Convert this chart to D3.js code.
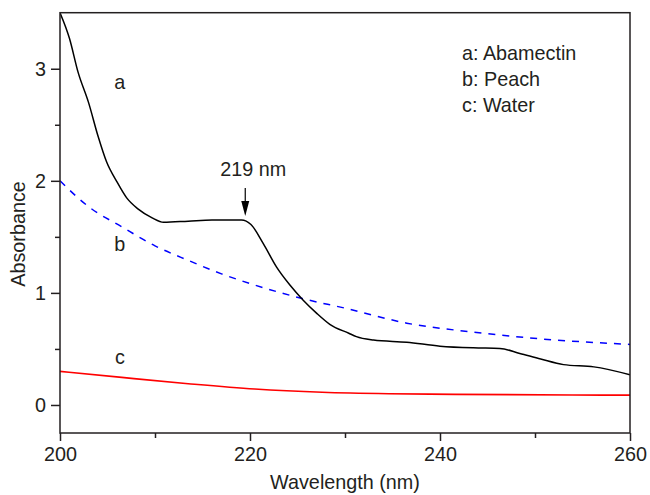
<!DOCTYPE html>
<html>
<head>
<meta charset="utf-8">
<script src="https://cdn.jsdelivr.net/npm/d3@7"></script>
<style>
  body { margin: 0; background: #fff; }
  svg text { font-family: "Liberation Sans", Arial, sans-serif; fill: #231f20; }
</style>
</head>
<body>
<svg id="chart" width="650" height="495"></svg>
<script>
// curve a: abamectin
var wavelengthA = [200, 201, 201.9, 203, 204, 204.9, 206, 207, 208.2, 209.7, 210.9, 213.5, 216, 219.1, 220.1,
    221.4, 222.8, 224.2, 225.6, 227, 228.4, 230.4, 231.2, 233, 236.5, 240, 243.5, 246.3, 248.4, 250.6, 253, 256.2, 260];
var absA = [3.5, 3.27, 2.97, 2.7, 2.4, 2.17, 1.99, 1.85, 1.75, 1.67, 1.63, 1.64, 1.65, 1.65, 1.61,
    1.44, 1.23, 1.07, 0.935, 0.82, 0.72, 0.64, 0.61, 0.58, 0.56, 0.525, 0.51, 0.505, 0.46, 0.41, 0.36, 0.34, 0.27];
// curve b: peach
var wavelengthB = [200, 203, 206.5, 210, 213.5, 217, 220.5, 225.5, 230.2, 236.5, 243.5, 250.6, 260];
var absB = [2.0, 1.77, 1.59, 1.42, 1.29, 1.17, 1.07, 0.95, 0.86, 0.73, 0.65, 0.59, 0.54];
// curve c: water
var wavelengthC = [200, 206.5, 213.5, 220.5, 227.6, 234.6, 241.6, 253.9, 260];
var absC = [0.30, 0.246, 0.19, 0.142, 0.113, 0.10, 0.095, 0.089, 0.088];

var xTicks = [200, 220, 240, 260];
var yTicks = [0, 1, 2, 3];
var legendLines = ["a: Abamectin", "b: Peach", "c: Water"];

var margin = {left: 60, right: 20, top: 12.7, bottom: 62};
var width = 650, height = 495;
var svg = d3.select("#chart");

var x = d3.scaleLinear().domain([200, 260]).range([margin.left, width - margin.right]);
var y = d3.scaleLinear().domain([-0.25, 3.5]).range([height - margin.bottom, margin.top]);

svg.append("clipPath").attr("id", "plotclip").append("rect")
    .attr("x", x(200)).attr("y", y(3.5)).attr("width", x(260) - x(200)).attr("height", y(-0.25) - y(3.5));

function series(xs, ys) {
    return xs.map((d, i) => [d, ys[i]]);
}
var line = d3.line().x(d => x(d[0])).y(d => y(d[1])).curve(d3.curveMonotoneX);

var plot = svg.append("g").attr("clip-path", "url(#plotclip)");
plot.append("path").datum(series(wavelengthC, absC))
    .attr("d", line).attr("fill", "none").attr("stroke", "#ff0000").attr("stroke-width", 1.6);
plot.append("path").datum(series(wavelengthB, absB))
    .attr("d", line).attr("fill", "none").attr("stroke", "#0000ff").attr("stroke-width", 1.5)
    .attr("stroke-dasharray", "7,7");
plot.append("path").datum(series(wavelengthA, absA))
    .attr("d", line).attr("fill", "none").attr("stroke", "#000").attr("stroke-width", 1.5);

// axes
var fs = "19.8px";
var xAxis = d3.axisBottom(x).tickValues(xTicks).tickSize(8).tickPadding(6).tickFormat(d3.format("d"));
var xMinor = d3.axisBottom(x).tickValues([210, 230, 250]).tickSize(5).tickFormat("");
var yAxis = d3.axisLeft(y).tickValues(yTicks).tickSize(9).tickPadding(5).tickFormat(d3.format("d"));
var yMinor = d3.axisLeft(y).tickValues([0.5, 1.5, 2.5]).tickSize(5).tickFormat("");

function styleAxis(g) {
    g.select(".domain").remove();
    g.selectAll("line").attr("stroke", "#231f20").attr("stroke-width", 1.5);
    g.selectAll("text").style("font-size", fs).attr("fill", "#231f20");
}
svg.append("g").attr("transform", "translate(0," + y(-0.25) + ")").call(xAxis).call(styleAxis);
svg.append("g").attr("transform", "translate(0," + y(-0.25) + ")").call(xMinor).call(styleAxis);
svg.append("g").attr("transform", "translate(" + x(200) + ",0)").call(yAxis).call(styleAxis);
svg.append("g").attr("transform", "translate(" + x(200) + ",0)").call(yMinor).call(styleAxis);

// frame
svg.append("rect").attr("x", x(200)).attr("y", y(3.5))
    .attr("width", x(260) - x(200)).attr("height", y(-0.25) - y(3.5))
    .attr("fill", "none").attr("stroke", "#231f20").attr("stroke-width", 1.5);

// axis titles
svg.append("text").attr("x", (x(200) + x(260)) / 2).attr("y", 489)
    .attr("text-anchor", "middle").style("font-size", fs).text("Wavelength (nm)");
svg.append("text").attr("transform", "translate(25,234) rotate(-90)")
    .attr("text-anchor", "middle").style("font-size", fs).text("Absorbance");

// curve labels
var curveLabels = [["a", 206.3, 2.82], ["b", 206.3, 1.37], ["c", 206.3, 0.37]];
svg.selectAll(".clab").data(curveLabels).enter().append("text")
    .attr("class", "clab")
    .attr("x", d => x(d[1])).attr("y", d => y(d[2]))
    .attr("text-anchor", "middle").style("font-size", fs).text(d => d[0]);

// 219 nm annotation
svg.append("text").attr("x", x(219.5) + 8).attr("y", 176)
    .attr("text-anchor", "middle").style("font-size", fs).text("219 nm");
svg.append("line").attr("x1", x(219.5)).attr("x2", x(219.5)).attr("y1", 188).attr("y2", 205)
    .attr("stroke", "#000").attr("stroke-width", 1.2);
svg.append("path")
    .attr("d", "M" + (x(219.5) - 4) + ",201 L" + (x(219.5) + 4) + ",201 L" + x(219.5) + ",216 Z")
    .attr("fill", "#000");

// legend
svg.selectAll(".leg").data(legendLines).enter().append("text")
    .attr("class", "leg")
    .attr("x", 462).attr("y", (d, i) => 60 + i * 26)
    .style("font-size", fs).text(d => d);
</script>
</body>
</html>
